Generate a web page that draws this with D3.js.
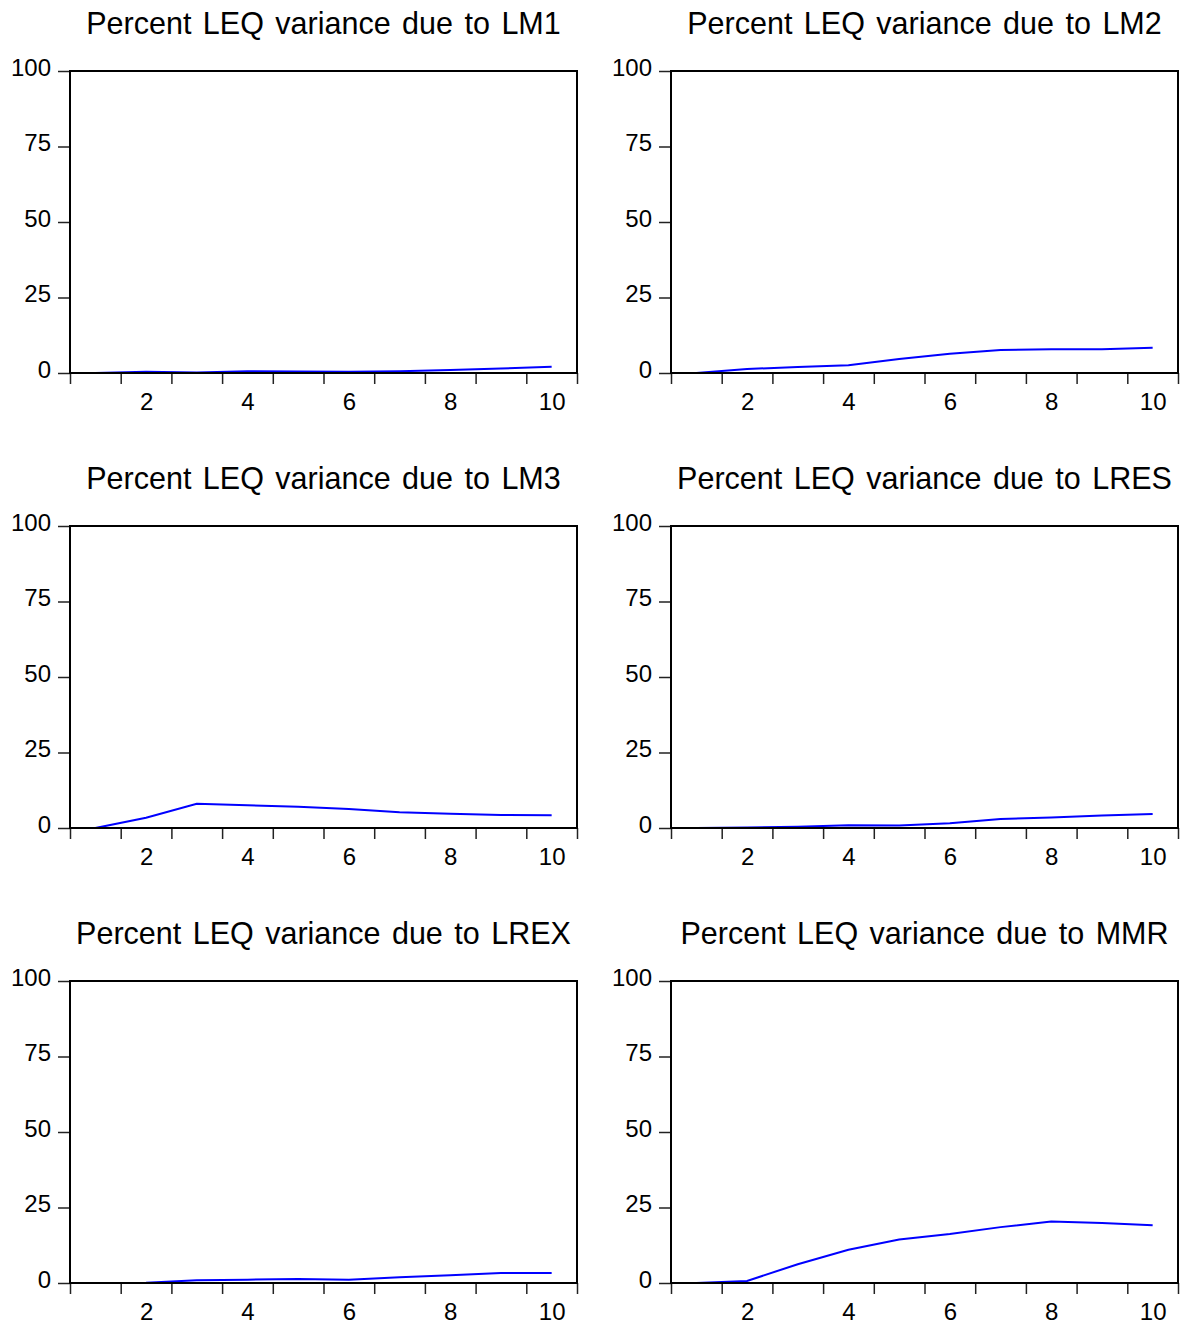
<!DOCTYPE html>
<html>
<head>
<meta charset="utf-8">
<script src="https://cdn.jsdelivr.net/npm/d3@7"></script>
<style>
  body { margin: 0; background: #fff; }
  svg { display: block; font-family: "Liberation Sans", Arial, sans-serif; }
</style>
</head>
<body>
<div id="chart"></div>
<script>
// variance decomposition of LEQ, periods 1..10
var periods = [1, 2, 3, 4, 5, 6, 7, 8, 9, 10];
var shockNames = ["LM1", "LM2", "LM3", "LRES", "LREX", "MMR"];

var lm1  = [0, 0.4, 0.2, 0.6, 0.5, 0.4, 0.6, 1.0, 1.5, 2.1];
var lm2  = [0, 1.3, 2.0, 2.6, 4.6, 6.4, 7.6, 7.9, 7.9, 8.4];
var lm3  = [0, 3.4, 8.0, 7.5, 7.0, 6.3, 5.2, 4.7, 4.3, 4.2];
var lres = [0, 0.2, 0.4, 0.9, 0.8, 1.6, 3.0, 3.5, 4.1, 4.6];
var lrex = [0, 0.1, 0.9, 1.1, 1.3, 1.1, 1.9, 2.6, 3.3, 3.3];
var mmr  = [0, 0.7, 6.2, 11.0, 14.4, 16.2, 18.5, 20.4, 19.9, 19.1];

var yTicks = [0, 25, 50, 75, 100];
var xLabels = [2, 4, 6, 8, 10];

var series = [lm1, lm2, lm3, lres, lrex, mmr];

var width = 1184, height = 1325;
var plotW = 507, plotH = 302;
var colX = [70, 671], rowY = [71, 526, 981];

var svg = d3.select("#chart").append("svg")
    .attr("width", width)
    .attr("height", height);

svg.append("rect").attr("width", width).attr("height", height).attr("fill", "#fff");

var x = d3.scaleLinear().domain([0.5, 10.5]).range([0, plotW]);
var y = d3.scaleLinear().domain([0, 100]).range([plotH, 0]);

var line = d3.line()
    .x(function(d, i) { return x(periods[i]); })
    .y(function(d) { return y(d); });

series.forEach(function(vals, k) {
    var g = svg.append("g")
        .attr("transform", "translate(" + colX[k % 2] + "," + rowY[Math.floor(k / 2)] + ")");

    // title
    g.append("text")
        .attr("x", plotW / 2)
        .attr("y", -37)
        .attr("text-anchor", "middle")
        .attr("font-size", "30.5px")
        .attr("word-spacing", "3px")
        .attr("fill", "#000")
        .text("Percent LEQ variance due to " + shockNames[k]);

    // y axis ticks + labels
    var ya = g.append("g")
        .call(d3.axisLeft(y).tickValues(yTicks).tickSize(12).tickPadding(7));
    ya.select(".domain").remove();
    ya.selectAll("line").attr("stroke", "#222").attr("stroke-width", 1.5);
    ya.selectAll("text")
        .attr("font-size", "24px")
        .attr("font-family", "Liberation Sans, Arial, sans-serif")
        .attr("fill", "#000")
        .attr("dy", "4px");

    // x axis ticks between periods
    var xt = g.append("g")
        .attr("transform", "translate(0," + plotH + ")")
        .call(d3.axisBottom(x).tickValues(d3.range(0.5, 11, 1)).tickSize(11).tickFormat(""));
    xt.select(".domain").remove();
    xt.selectAll("line").attr("stroke", "#222").attr("stroke-width", 1.5);

    // x labels
    var xl = g.append("g")
        .attr("transform", "translate(0," + plotH + ")")
        .call(d3.axisBottom(x).tickValues(xLabels).tickSize(0).tickPadding(0));
    xl.select(".domain").remove();
    xl.selectAll("text")
        .attr("font-size", "24px")
        .attr("font-family", "Liberation Sans, Arial, sans-serif")
        .attr("fill", "#000")
        .attr("dy", "37px");

    // series line
    g.append("path")
        .datum(vals)
        .attr("d", line)
        .attr("fill", "none")
        .attr("stroke", "#0000ff")
        .attr("stroke-width", 2);

    // frame
    g.append("rect")
        .attr("width", plotW)
        .attr("height", plotH)
        .attr("fill", "none")
        .attr("stroke", "#000")
        .attr("stroke-width", 2);
});
</script>
</body>
</html>
